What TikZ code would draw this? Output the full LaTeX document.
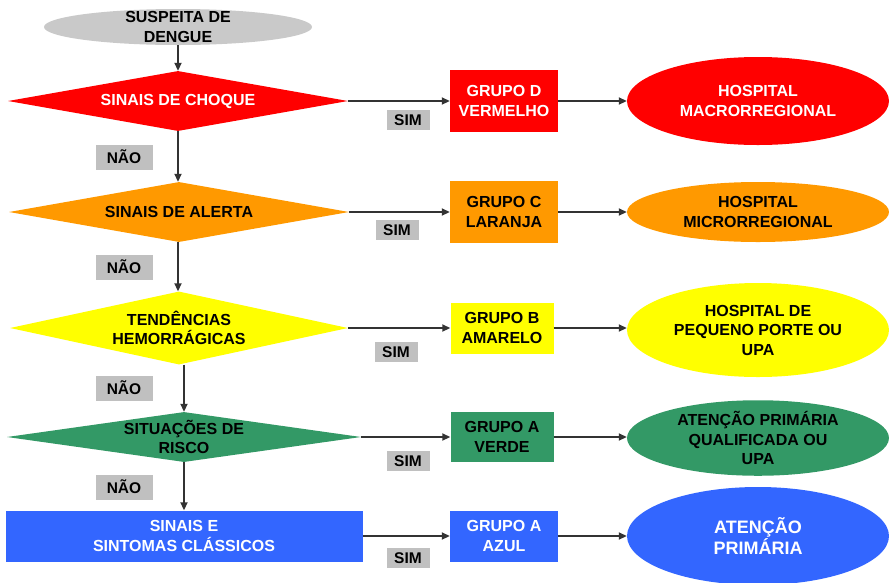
\documentclass[tikz,border=0pt]{standalone}
\usepackage{fontspec}
\setmainfont{Liberation Sans}
\usetikzlibrary{shapes.geometric,arrows.meta}
\definecolor{verm}{HTML}{FF0000}
\definecolor{lar}{HTML}{FF9900}
\definecolor{ama}{HTML}{FFFF00}
\definecolor{verde}{HTML}{339966}
\definecolor{azul}{HTML}{3366FF}
\definecolor{cinza}{HTML}{C0C0C0}
\definecolor{cseta}{HTML}{333333}
\tikzset{every node/.style={font=\fontsize{16}{19.5}\selectfont\bfseries,
        align=center, inner sep=0pt},
    branco/.style={text=white},
    inicio/.style={ellipse, fill=cinza!85, minimum width=268, minimum height=36},
    pergunta/.style={diamond, minimum width=340, minimum height=60},
    grupo/.style={rectangle, minimum width=108, minimum height=62},
    destino/.style={ellipse, minimum width=262, minimum height=88},
    tag/.style={fill=cinza, font=\fontsize{15.5}{17}\selectfont\bfseries},
    sim/.style={tag, minimum width=43, minimum height=20},
    nao/.style={tag, minimum width=57, minimum height=25},
    flecha/.style={draw=cseta, line width=1.8pt, -{Triangle[length=8pt,width=7pt]}},
    }
\begin{document}
\begin{tikzpicture}[x=1pt,y=-1pt]
\useasboundingbox (0,0) rectangle (889,582);
% inicio
\node[inicio, label={center:SUSPEITA DE\\DENGUE}] (susp) at (178,27) {};
% perguntas
\node[pergunta, fill=verm, label={[branco]center:SINAIS DE CHOQUE}] (choque) at (178,101) {};
\node[pergunta, fill=lar, label={center:SINAIS DE ALERTA}] (alerta) at (179,212) {};
\node[pergunta, fill=ama, minimum width=338, minimum height=73,
    label={center:TENDÊNCIAS\\HEMORRÁGICAS}] (tend) at (179,328) {};
\node[pergunta, fill=verde, minimum width=354, minimum height=50,
    label={center:SITUAÇÕES DE\\RISCO}] (risco) at (184,437) {};
\node[grupo, fill=azul, branco, minimum width=357, minimum height=51] (classicos) at (184,536)
    {SINAIS E\\SINTOMAS CLÁSSICOS};
% grupos
\node[grupo, fill=verm, branco] (gd) at (504,101) {GRUPO D\\VERMELHO};
\node[grupo, fill=lar] (gc) at (504,212) {GRUPO C\\LARANJA};
\node[grupo, fill=ama, minimum width=103, minimum height=51] (gb) at (502,328) {GRUPO B\\AMARELO};
\node[grupo, fill=verde, minimum width=103, minimum height=50] (gav) at (502,437) {GRUPO A\\VERDE};
\node[grupo, fill=azul, branco, minimum height=51] (gaz) at (504,536) {GRUPO A\\AZUL};
% destinos
\node[destino, fill=verm, branco] (macro) at (758,101) {HOSPITAL\\MACRORREGIONAL};
\node[destino, fill=lar, minimum height=60] (micro) at (758,212) {HOSPITAL\\MICRORREGIONAL};
\node[destino, fill=ama, minimum height=94] (upa) at (758,330) {HOSPITAL DE\\PEQUENO PORTE OU\\UPA};
\node[destino, fill=verde, minimum height=74] (qualif) at (758,438) {ATENÇÃO PRIMÁRIA\\QUALIFICADA OU\\UPA};
\node[destino, fill=azul, branco, minimum height=98, font=\fontsize{18}{21}\selectfont\bfseries]
    (prim) at (758,536) {ATENÇÃO\\PRIMÁRIA};
% setas NAO
\draw[flecha] (susp) -- (choque);
\draw[flecha] (choque) -- (alerta.north -| choque);
\draw[flecha] (alerta.south -| choque) -- (tend.north -| choque);
\draw[flecha] (tend.south -| risco) -- (risco);
\draw[flecha] (risco) -- (classicos);
% setas SIM
\draw[flecha] (choque) -- (gd);
\draw[flecha] (alerta) -- (gc);
\draw[flecha] (tend) -- (gb);
\draw[flecha] (risco) -- (gav);
\draw[flecha] (classicos) -- (gaz);
\draw[flecha] (gd) -- (macro);
\draw[flecha] (gc) -- (micro);
\draw[flecha] (gb) -- (upa.west |- gb);
\draw[flecha] (gav) -- (qualif.west |- gav);
\draw[flecha] (gaz) -- (prim);
% rotulos
\node[sim] (s1) at (408,120) {SIM};
\node[sim] (s2) at (397,230) {SIM};
\node[sim] (s3) at (396,352) {SIM};
\node[sim] (s4) at (408,461) {SIM};
\node[sim] (s5) at (408,558) {SIM};
\node[nao] (n1) at (124,157) {NÃO};
\node[nao] (n2) at (124,267) {NÃO};
\node[nao] (n3) at (124,388) {NÃO};
\node[nao] (n4) at (124,487) {NÃO};
\end{tikzpicture}
\end{document}
